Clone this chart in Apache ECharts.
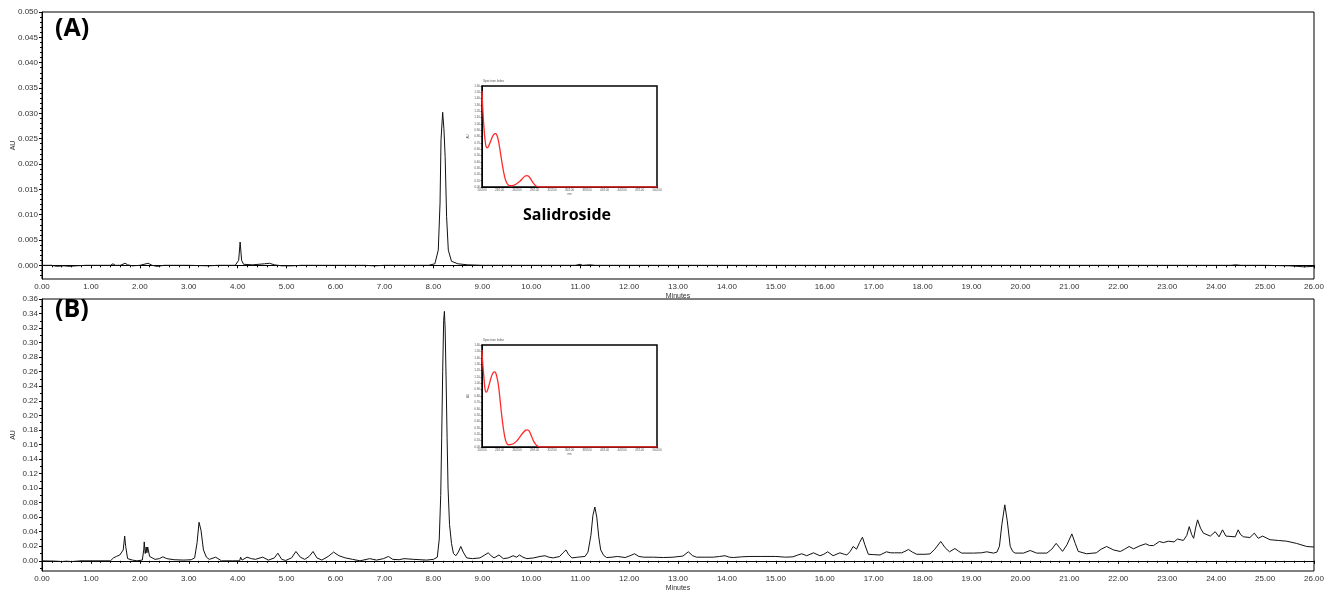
<!DOCTYPE html>
<html>
<head>
<meta charset="utf-8">
<script src="https://cdn.jsdelivr.net/npm/echarts@6/dist/echarts.min.js"></script>
<style>
html, body { margin: 0; padding: 0; background: #fff; }
#chart { width: 1332px; height: 597px; }
</style>
</head>
<body>
<div id="chart"></div>
<script>
// HPLC traces: [minutes, AU]
const traceA = [
    [0, 0], [0.2, 0], [0.3, -0.0002], [0.45, -0.0001], [0.55, -0.0002], [0.7, -0.0001], [0.9, 0],
    [1.2, 0], [1.4, 0], [1.45, 0.0003], [1.5, 0], [1.6, 0], [1.7, 0.0004], [1.75, 0.0001],
    [1.85, -0.0001], [2.0, 0], [2.17, 0.0004], [2.25, 0], [2.35, -0.0002], [2.5, 0], [3.0, 0],
    [3.4, -0.0001], [3.6, 0], [3.95, 0], [4.02, 0.001], [4.05, 0.0046], [4.08, 0.001], [4.12, 0.0002],
    [4.3, 0.0001], [4.55, 0.0003], [4.65, 0.0004], [4.75, 0.0001], [4.9, -0.0001], [5.1, -0.0001],
    [5.3, 0], [6.0, 0], [6.6, 0], [6.8, -0.0001], [7.0, 0], [7.5, 0], [7.9, 0],
    [8.03, 0.0003], [8.10, 0.003], [8.136, 0.0123], [8.156, 0.0248], [8.19, 0.0302], [8.215, 0.027],
    [8.24, 0.0215], [8.27, 0.0096], [8.305, 0.003], [8.37, 0.0008], [8.5, 0.0003], [8.7, 0.0001],
    [9, 0], [10, 0], [10.9, 0], [11.0, 0.0002], [11.05, 0], [11.2, 0.0001], [11.3, 0], [12, 0],
    [15, 0], [18, 0], [21, 0], [24.3, 0], [24.4, 0.0001], [24.5, 0], [25, 0], [25.5, -0.0001],
    [25.8, -0.0003], [26, -0.0002]
];

const traceB = [
    [0, 0], [0.3, -0.0005], [0.4, -0.001], [0.5, -0.0005], [0.6, -0.001], [0.8, 0], [1.2, 0], [1.4, 0],
    [1.46, 0.004], [1.52, 0.006], [1.59, 0.008], [1.63, 0.006], [1.66, 0.015], [1.69, 0.034], [1.71, 0.02],
    [1.75, 0.003], [1.85, 0.001], [1.94, 0], [2.05, 0.001], [2.08, 0.015], [2.09, 0.026], [2.11, 0.01],
    [2.13, 0.019], [2.145, 0.011], [2.16, 0.019], [2.2, 0.006], [2.31, 0.002], [2.4, 0.003], [2.47, 0.0055],
    [2.55, 0.003], [2.7, 0.0015], [2.9, 0.001], [3.05, 0.0015], [3.12, 0.004], [3.17, 0.025], [3.21, 0.053],
    [3.25, 0.042], [3.3, 0.015], [3.36, 0.005], [3.42, 0.002], [3.55, 0.005], [3.67, 0], [3.9, 0], [4.04, 0],
    [4.06, 0.005], [4.09, 0.001], [4.19, 0.005], [4.28, 0.003], [4.36, 0.002], [4.51, 0.005], [4.63, 0.001],
    [4.75, 0.004], [4.82, 0.0105], [4.9, 0.002], [4.98, 0.0005], [5.1, 0.004], [5.19, 0.0128], [5.28, 0.005],
    [5.37, 0.002], [5.46, 0.006], [5.54, 0.0128], [5.62, 0.004], [5.72, 0.001], [5.85, 0.006], [5.96, 0.012],
    [6.07, 0.007], [6.2, 0.004], [6.35, 0.002], [6.5, 0], [6.7, 0.003], [6.84, 0.001], [6.98, 0.003],
    [7.08, 0.006], [7.17, 0.002], [7.3, 0.0015], [7.4, 0.003], [7.6, 0.002], [7.86, 0.001], [8.0, 0.002],
    [8.08, 0.005], [8.12, 0.03], [8.15, 0.09], [8.17, 0.17], [8.19, 0.26], [8.21, 0.33], [8.225, 0.343],
    [8.24, 0.32], [8.26, 0.25], [8.28, 0.17], [8.30, 0.10], [8.33, 0.05], [8.37, 0.024], [8.41, 0.01],
    [8.46, 0.007], [8.51, 0.012], [8.56, 0.0197], [8.61, 0.012], [8.68, 0.004], [8.8, 0.003], [8.95, 0.004],
    [9.05, 0.008], [9.12, 0.011], [9.18, 0.007], [9.24, 0.004], [9.34, 0.008], [9.43, 0.003], [9.53, 0.004],
    [9.63, 0.007], [9.7, 0.005], [9.76, 0.008], [9.83, 0.005], [9.91, 0.003], [10.05, 0.004], [10.18, 0.006],
    [10.28, 0.007], [10.36, 0.005], [10.45, 0.004], [10.58, 0.006], [10.65, 0.011], [10.71, 0.015],
    [10.76, 0.009], [10.83, 0.004], [10.95, 0.005], [11.1, 0.006], [11.16, 0.012], [11.22, 0.035],
    [11.26, 0.062], [11.30, 0.074], [11.34, 0.06], [11.38, 0.033], [11.42, 0.015], [11.48, 0.0075],
    [11.54, 0.0045], [11.65, 0.005], [11.76, 0.006], [11.92, 0.0045], [12.02, 0.007], [12.11, 0.0097],
    [12.2, 0.006], [12.3, 0.005], [12.5, 0.005], [12.7, 0.0045], [12.9, 0.005], [13.1, 0.0065],
    [13.21, 0.0124], [13.3, 0.007], [13.38, 0.005], [13.55, 0.005], [13.72, 0.005], [13.85, 0.006],
    [13.96, 0.007], [14.05, 0.005], [14.13, 0.0045], [14.3, 0.0055], [14.47, 0.006], [14.7, 0.006],
    [15.0, 0.006], [15.2, 0.005], [15.35, 0.0055], [15.45, 0.008], [15.53, 0.0097], [15.63, 0.007],
    [15.77, 0.011], [15.9, 0.007], [15.98, 0.009], [16.06, 0.0124], [16.17, 0.007], [16.31, 0.011],
    [16.4, 0.009], [16.45, 0.008], [16.52, 0.013], [16.58, 0.0197], [16.65, 0.016], [16.71, 0.025],
    [16.77, 0.0325], [16.82, 0.022], [16.89, 0.009], [17.0, 0.0085], [17.13, 0.008], [17.26, 0.0124],
    [17.35, 0.011], [17.43, 0.011], [17.57, 0.011], [17.64, 0.013], [17.71, 0.0156], [17.79, 0.012],
    [17.88, 0.009], [18.05, 0.009], [18.15, 0.0095], [18.25, 0.016], [18.37, 0.0266], [18.46, 0.018],
    [18.55, 0.0124], [18.66, 0.0169], [18.74, 0.013], [18.8, 0.0106], [19.04, 0.0106], [19.2, 0.011],
    [19.31, 0.0124], [19.45, 0.0106], [19.52, 0.012], [19.57, 0.02], [19.62, 0.05], [19.68, 0.077],
    [19.73, 0.055], [19.79, 0.02], [19.84, 0.013], [19.89, 0.0106], [20.06, 0.0106], [20.2, 0.0142],
    [20.33, 0.0106], [20.54, 0.0106], [20.64, 0.016], [20.73, 0.024], [20.8, 0.018], [20.86, 0.013],
    [20.95, 0.022], [21.05, 0.037], [21.12, 0.024], [21.18, 0.013], [21.35, 0.0097], [21.55, 0.011],
    [21.65, 0.016], [21.76, 0.0197], [21.9, 0.015], [22.04, 0.0128], [22.13, 0.016], [22.22, 0.0197],
    [22.31, 0.0165], [22.44, 0.0206], [22.56, 0.0234], [22.64, 0.021], [22.72, 0.021], [22.84, 0.0266],
    [22.92, 0.025], [23.02, 0.027], [23.14, 0.026], [23.21, 0.030], [23.33, 0.028], [23.40, 0.035],
    [23.45, 0.047], [23.50, 0.036], [23.54, 0.031], [23.58, 0.045], [23.62, 0.0563], [23.68, 0.045],
    [23.74, 0.038], [23.88, 0.034], [23.98, 0.04], [24.06, 0.033], [24.13, 0.0426], [24.2, 0.034],
    [24.39, 0.033], [24.45, 0.0426], [24.5, 0.036], [24.56, 0.033], [24.69, 0.032], [24.78, 0.038],
    [24.86, 0.031], [24.95, 0.034], [25.1, 0.029], [25.27, 0.028], [25.44, 0.027], [25.64, 0.024],
    [25.85, 0.0197], [26, 0.019]
];

// UV spectra of the salidroside peak: [nm, AU]
const spectrumA = [
    [200, 1.52], [201, 1.30], [203, 0.98], [205, 0.76], [207, 0.64], [209, 0.62], [212, 0.66],
    [215, 0.73], [218, 0.80], [221, 0.84], [223, 0.845], [225, 0.83], [228, 0.74], [231, 0.58],
    [234, 0.40], [237, 0.24], [240, 0.12], [243, 0.055], [246, 0.025], [250, 0.02], [255, 0.03],
    [260, 0.055], [265, 0.09], [270, 0.14], [274, 0.175], [277, 0.18], [280, 0.17], [284, 0.12],
    [288, 0.06], [292, 0.02], [296, 0.005], [300, 0], [350, 0], [400, 0], [450, 0], [500, 0]
];
const spectrumB = [
    [200, 1.52], [201, 1.35], [203, 1.12], [205, 0.92], [207, 0.86], [209, 0.88], [212, 0.97],
    [215, 1.07], [218, 1.15], [221, 1.18], [223, 1.17], [225, 1.12], [228, 0.98], [231, 0.74],
    [234, 0.48], [237, 0.27], [240, 0.12], [243, 0.05], [246, 0.035], [250, 0.04], [255, 0.06],
    [260, 0.10], [265, 0.16], [270, 0.22], [275, 0.265], [278, 0.27], [281, 0.25], [284, 0.19],
    [288, 0.10], [292, 0.04], [296, 0.01], [300, 0], [350, 0], [400, 0], [450, 0], [500, 0]
];
const peakLabelsA = { 223: '223.7', 277: '276.5' };
const peakLabelsB = { 221: '223.7', 278: '276.5' };

// tick labels
const yTicksA = [0, 0.005, 0.01, 0.015, 0.02, 0.025, 0.03, 0.035, 0.04, 0.045, 0.05];
const yTicksB = [0, 0.02, 0.04, 0.06, 0.08, 0.10, 0.12, 0.14, 0.16, 0.18, 0.20,
                 0.22, 0.24, 0.26, 0.28, 0.30, 0.32, 0.34, 0.36];

const FONT = 'Liberation Sans';
const chart = echarts.init(document.getElementById('chart'));

function minorValues(lo, hi, step) {
    const out = [];
    for (let v = lo; v <= hi + 1e-9; v += step) out.push(+v.toFixed(4));
    return out;
}

function mainX(grid) {
    return {
        type: 'value', gridIndex: grid, min: 0, max: 26, interval: 1,
        axisLine: { lineStyle: { color: '#000', width: 1 } },
        axisTick: { length: 3, lineStyle: { color: '#000' } },
        minorTick: { show: true, splitNumber: 5, length: 2, lineStyle: { color: '#000' } },
        splitLine: { show: false },
        axisLabel: { fontSize: 8, color: '#333', fontFamily: FONT, margin: 4,
                     formatter: v => v.toFixed(2) },
        name: 'Minutes', nameLocation: 'middle', nameGap: 14, nameMoveOverlap: false,
        nameTextStyle: { fontSize: 7, color: '#333', fontFamily: FONT }
    };
}

function mainY(grid, min, max, ticks, digits) {
    return {
        type: 'value', gridIndex: grid, min: min, max: max,
        axisLine: { show: true, lineStyle: { color: '#000', width: 1 } },
        axisTick: { show: true, length: 3, customValues: ticks, lineStyle: { color: '#000' } },
        splitLine: { show: false },
        axisLabel: { fontSize: 8, color: '#333', fontFamily: FONT, margin: 4,
                     customValues: ticks, formatter: v => v.toFixed(digits) },
        name: 'AU', nameLocation: 'middle', nameGap: 25, nameRotate: 90, nameMoveOverlap: false,
        nameTextStyle: { fontSize: 7, color: '#333', fontFamily: FONT }
    };
}

function minorY(grid, min, max, ticks) {
    return {
        type: 'value', gridIndex: grid, min: min, max: max, position: 'left',
        axisLine: { show: false },
        axisTick: { show: true, length: 2, customValues: ticks, lineStyle: { color: '#000' } },
        axisLabel: { show: false },
        splitLine: { show: false }
    };
}

function insetX(grid) {
    return {
        type: 'value', gridIndex: grid, min: 200, max: 500, interval: 30,
        axisLine: { lineStyle: { color: '#000', width: 1 } },
        axisTick: { length: 1.5, lineStyle: { color: '#000', width: 0.5 } },
        splitLine: { show: false },
        axisLabel: { fontSize: 3, color: '#555', fontFamily: FONT, margin: 2,
                     formatter: v => v.toFixed(2) },
        name: 'nm', nameLocation: 'middle', nameGap: 6, nameMoveOverlap: false,
        nameTextStyle: { fontSize: 3, color: '#555' }
    };
}

function insetY(grid) {
    return {
        type: 'value', gridIndex: grid, min: 0, max: 1.6, interval: 0.1,
        axisLine: { show: true, lineStyle: { color: '#000', width: 1 } },
        axisTick: { length: 1.5, lineStyle: { color: '#000', width: 0.5 } },
        splitLine: { show: false },
        axisLabel: { fontSize: 3, color: '#555', fontFamily: FONT, margin: 2,
                     formatter: v => v.toFixed(2) },
        name: 'AU', nameLocation: 'middle', nameGap: 12, nameRotate: 90, nameMoveOverlap: false,
        nameTextStyle: { fontSize: 3, color: '#555' }
    };
}

function spectrumData(spec, labels) {
    return spec.map(p => labels[p[0]]
        ? { value: p, label: { show: true, position: 'top', distance: 1, formatter: labels[p[0]],
                               fontSize: 3.5, color: '#ff3030' } }
        : p);
}

const gridBase = { show: true, borderColor: '#000', containLabel: false, outerBoundsMode: 'none' };

const option = {
    animation: false,
    backgroundColor: '#fff',
    grid: [
        Object.assign({}, gridBase, { left: 42, right: 18, top: 12, height: 267, borderWidth: 1 }),
        Object.assign({}, gridBase, { left: 42, right: 18, top: 299, height: 272, borderWidth: 1 }),
        Object.assign({}, gridBase, { left: 482, top: 86, width: 175, height: 101, borderWidth: 1.5,
                                      backgroundColor: '#fff' }),
        Object.assign({}, gridBase, { left: 482, top: 345, width: 175, height: 102, borderWidth: 1.5,
                                      backgroundColor: '#fff' })
    ],
    xAxis: [mainX(0), mainX(1), insetX(2), insetX(3)],
    yAxis: [
        mainY(0, -0.0027, 0.05, yTicksA, 3),
        minorY(0, -0.0027, 0.05, minorValues(-0.002, 0.05, 0.001)),
        mainY(1, -0.014, 0.36, yTicksB, 2),
        minorY(1, -0.014, 0.36, minorValues(-0.01, 0.36, 0.01)),
        insetY(2),
        insetY(3)
    ],
    series: [
        { type: 'line', xAxisIndex: 0, yAxisIndex: 0, data: traceA, showSymbol: false,
          lineStyle: { color: '#111', width: 1 } },
        { type: 'line', xAxisIndex: 1, yAxisIndex: 2, data: traceB, showSymbol: false,
          lineStyle: { color: '#111', width: 1 } },
        { type: 'line', xAxisIndex: 2, yAxisIndex: 4, data: spectrumData(spectrumA, peakLabelsA),
          showSymbol: false, smooth: 0.3, lineStyle: { color: '#ff2a2a', width: 1.3 } },
        { type: 'line', xAxisIndex: 3, yAxisIndex: 5, data: spectrumData(spectrumB, peakLabelsB),
          showSymbol: false, smooth: 0.3, lineStyle: { color: '#ff2a2a', width: 1.3 } }
    ],
    graphic: [
        { type: 'text', left: 55, top: 16,
          style: { text: '(A)', font: 'bold 25px "Open Sans"', fill: '#000' } },
        { type: 'text', left: 55, top: 297,
          style: { text: '(B)', font: 'bold 25px "Open Sans"', fill: '#000' } },
        { type: 'text', left: 523, top: 207,
          style: { text: 'Salidroside', font: 'bold 16px "Open Sans"', fill: '#000' } },
        { type: 'text', left: 483, top: 80,
          style: { text: 'Spectrum Index', font: '3px sans-serif', fill: '#555' } },
        { type: 'text', left: 483, top: 339,
          style: { text: 'Spectrum Index', font: '3px sans-serif', fill: '#555' } }
    ]
};

chart.setOption(option);
</script>
</body>
</html>
